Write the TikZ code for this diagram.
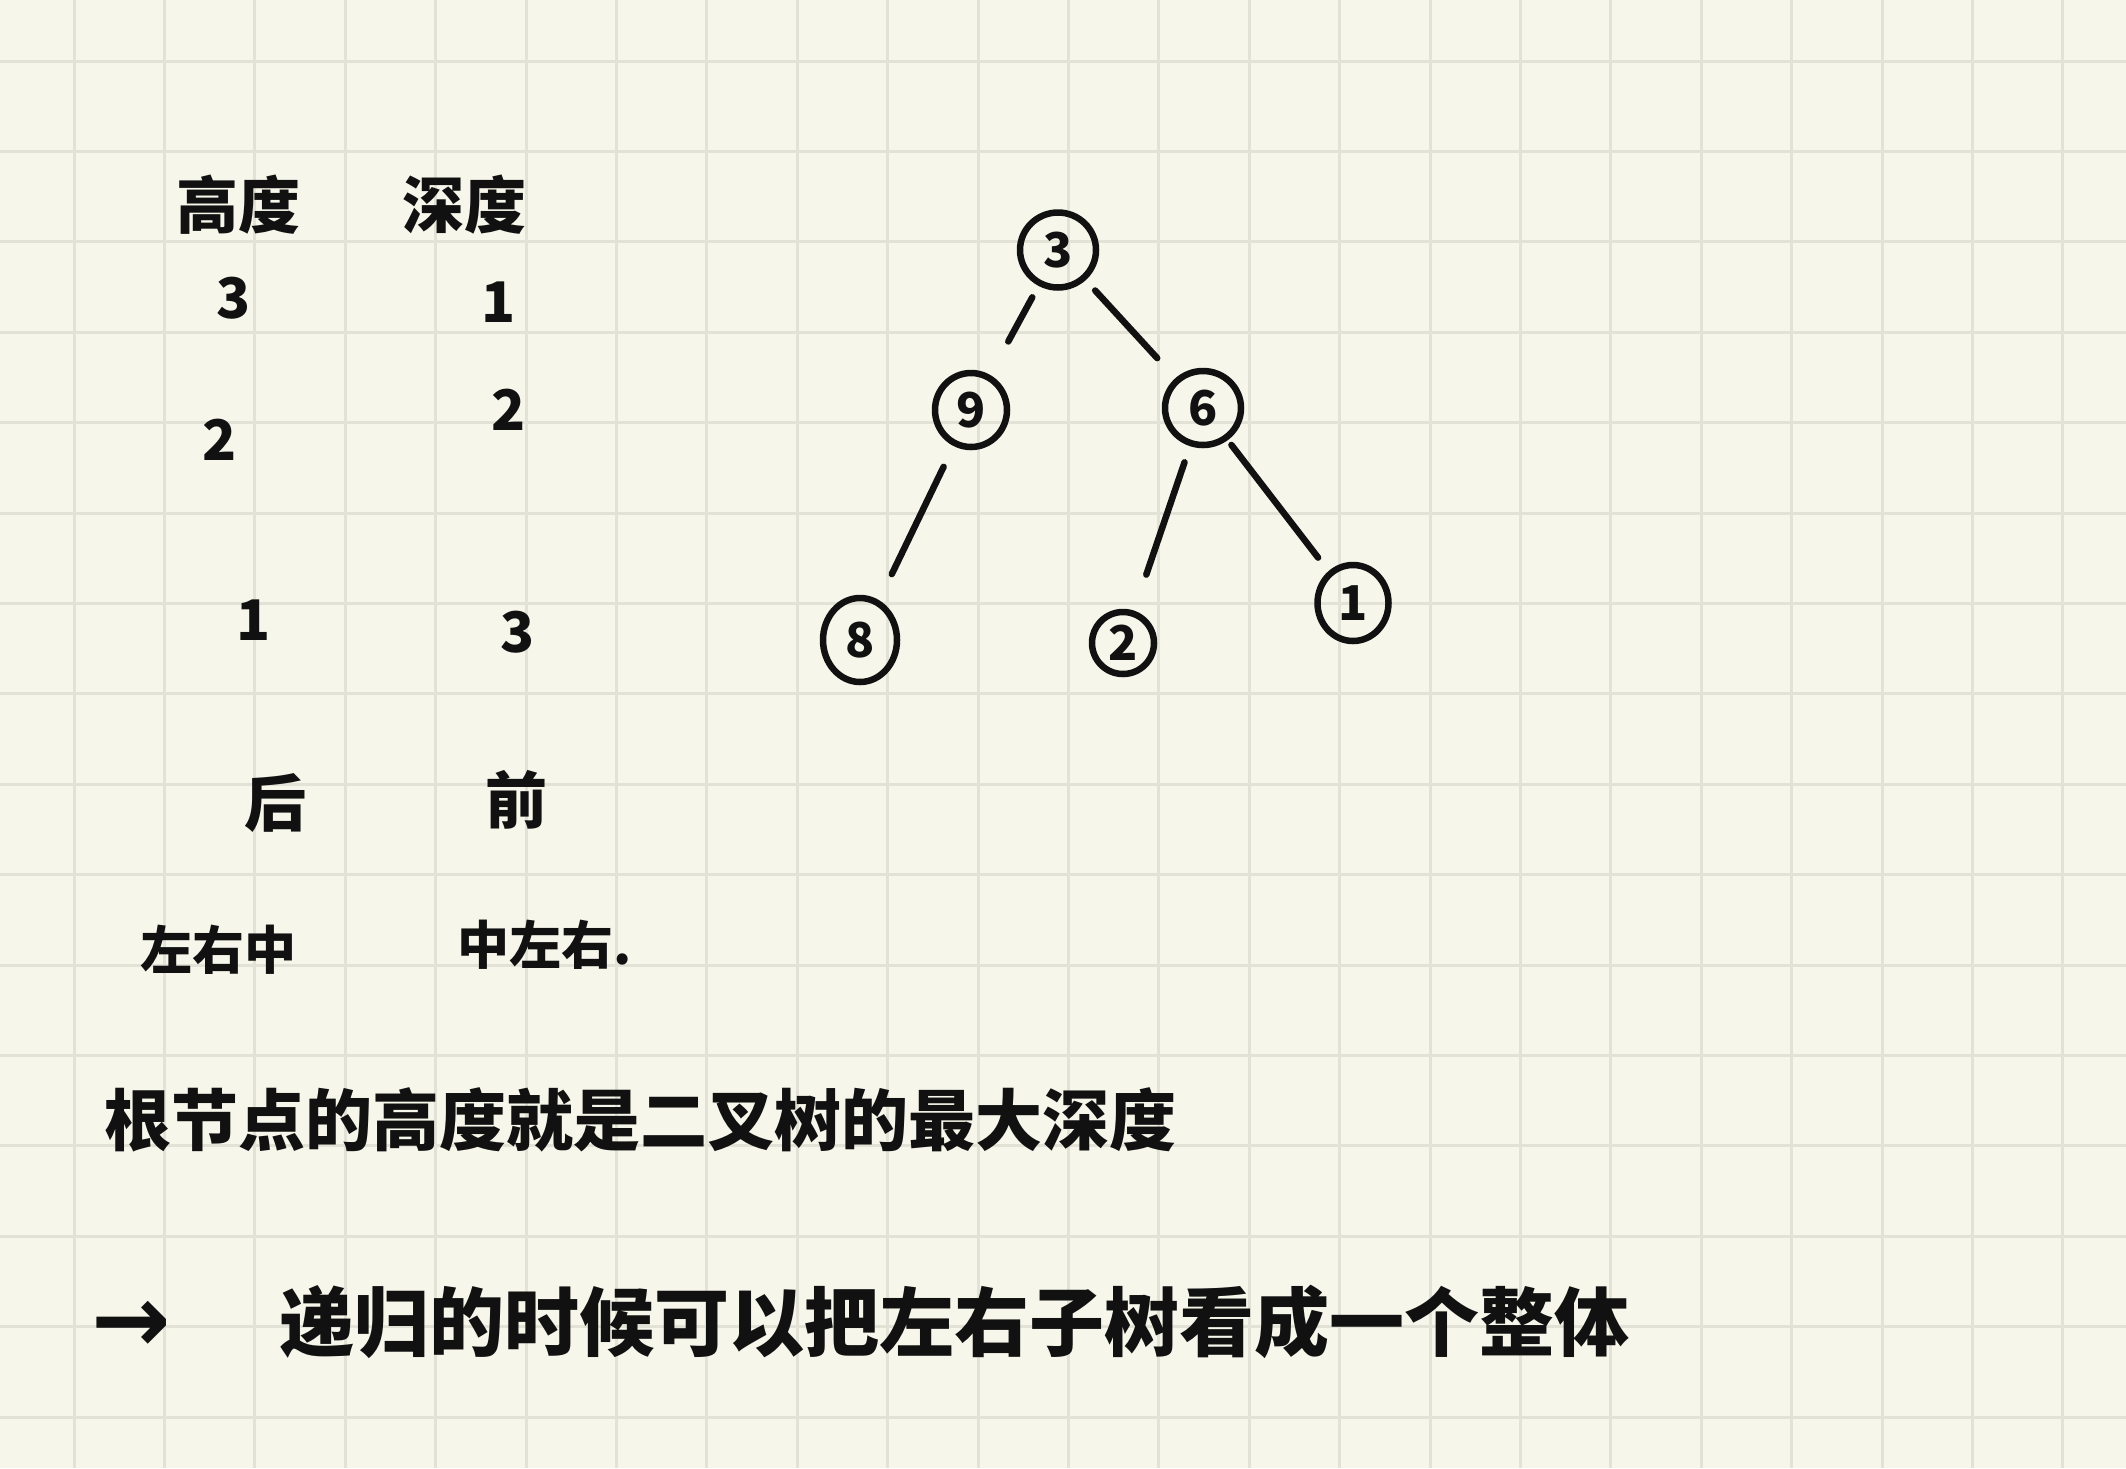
\documentclass[tikz,border=0pt]{standalone}
\usepackage{fontspec}
\usetikzlibrary{shapes.geometric}
\newfontfamily\cjk{Noto Sans CJK SC}
\newfontfamily\symf{DejaVu Sans}
\definecolor{paper}{RGB}{246,246,234}
\definecolor{gridc}{RGB}{226,226,214}
\definecolor{ink}{RGB}{17,17,17}
\begin{document}
\begin{tikzpicture}[x=1pt,y=-1pt,
  hw/.style={text=ink,inner sep=0pt,font=\cjk\bfseries\fontsize{62}{70}\selectfont},
  hwsmall/.style={text=ink,inner sep=0pt,font=\cjk\bfseries\fontsize{52}{60}\selectfont},
  digit/.style={text=ink,inner sep=0pt,font=\cjk\bfseries\fontsize{56}{64}\selectfont},
  tnode/.style={draw=ink,line width=6.5pt,ellipse,inner sep=0pt,text=ink,font=\cjk\bfseries\fontsize{48}{56}\selectfont},
  tedge/.style={draw=ink,line width=6.5pt,line cap=round}]
\fill[paper] (0,0) rectangle (2126,1468);
\useasboundingbox (0,0) rectangle (2126,1468);
\foreach \k in {0,...,22} \draw[gridc,line width=3pt] ({74+90.4*\k},0) -- ({74+90.4*\k},1468);
\foreach \k in {0,...,15} \draw[gridc,line width=3pt] (0,{61+90.4*\k}) -- (2126,{61+90.4*\k});

% left table
\node[hw] (hgt) at (238,205) {高度};
\node[hw] (dep) at (464,205) {深度};
\node[digit] (h3) at (234,298) {3};
\node[digit] (d1) at (499,302) {1};
\node[digit] (h2) at (220,440) {2};
\node[digit] (d2) at (509,410) {2};
\node[digit] (h1) at (254,620) {1};
\node[digit] (d3) at (518,632) {3};
\node[hw] (post) at (275,803) {后};
\node[hw] (pre) at (516,800) {前};
\node[hwsmall] (lrm) at (218,950) {左右中};
\node[hwsmall] (mlr) at (545,945) {中左右.};

% tree
\node[tnode,minimum width=76pt,minimum height=75pt] (n3) at (1058,250) {3};
\node[tnode,minimum width=72pt,minimum height=74pt] (n9) at (971,410) {9};
\node[tnode,minimum width=76pt,minimum height=74pt] (n6) at (1203,408) {6};
\node[tnode,minimum width=74pt,minimum height=84pt] (n8) at (860,640) {8};
\node[tnode,minimum width=62pt,minimum height=62pt] (n2) at (1123,643) {2};
\node[tnode,minimum width=71pt,minimum height=76pt] (n1) at (1353,603) {1};
\draw[tedge,shorten <=13pt,shorten >=38pt] (n3) -- (n9);
\draw[tedge,shorten <=14pt,shorten >=27pt] (n3) -- (n6);
\draw[tedge,shorten <=23pt,shorten >=29pt] (n9) -- (n8);
\draw[tedge,shorten <=17pt,shorten >=38pt] (n6) -- (n2);
\draw[tedge,shorten <=6pt,shorten >=17pt] (n6) -- (n1);

% bottom notes
\node[text=ink,inner sep=0pt,font=\cjk\bfseries\fontsize{67}{75}\selectfont] (note1) at (640,1120) {根节点的高度就是二叉树的最大深度};
\node[text=ink,inner sep=0pt,font=\symf\bfseries\fontsize{95}{100}\selectfont] (arr) at (131,1327) {→};
\node[text=ink,inner sep=0pt,font=\cjk\bfseries\fontsize{75}{85}\selectfont] (note2) at (954,1322) {递归的时候可以把左右子树看成一个整体};
\end{tikzpicture}
\end{document}
